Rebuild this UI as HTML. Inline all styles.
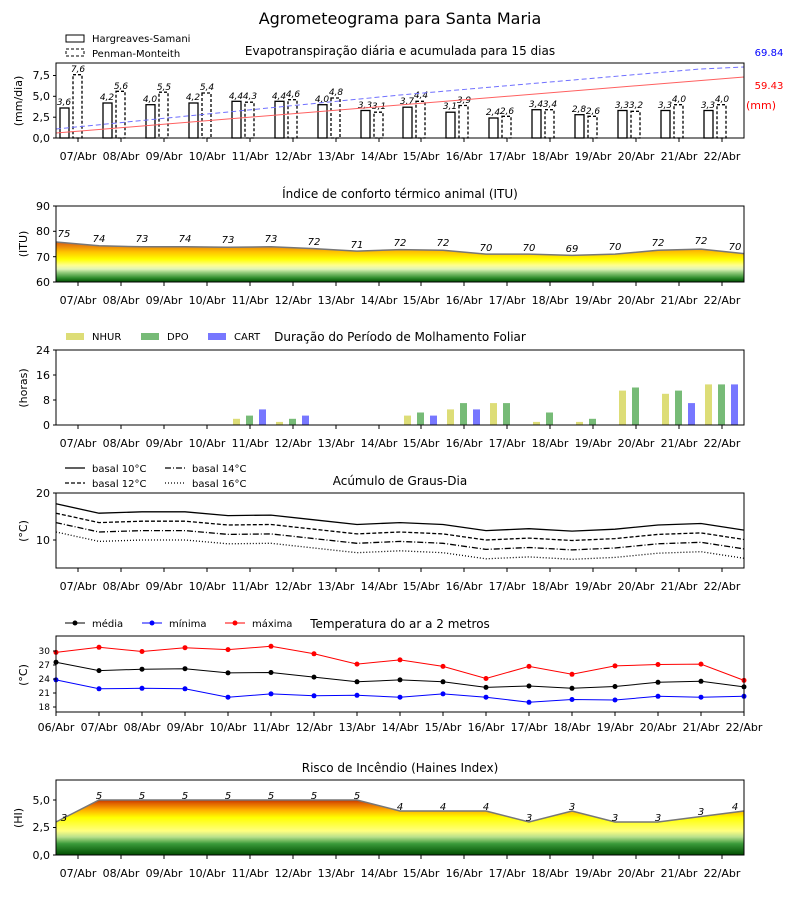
<!DOCTYPE html>
<html><head><meta charset="utf-8"><style>
body{margin:0;background:#fff}
svg{display:block;font-family:"DejaVu Sans","Liberation Sans",sans-serif}
.t{font-size:11px;text-anchor:middle}
.yl{font-size:11px;text-anchor:end}
.v{font-size:9px;font-style:italic;text-anchor:middle}
.h{font-size:12px;text-anchor:middle}
.lg{font-size:10px}
</style></head><body>
<svg width="800" height="900" viewBox="0 0 800 900">
<defs>
<linearGradient id="g2" gradientUnits="userSpaceOnUse" x1="0" y1="282" x2="0" y2="206">
<stop offset="0" stop-color="#004d00"/><stop offset="0.05" stop-color="#2a8a2a"/><stop offset="0.12" stop-color="#8cc878"/><stop offset="0.17" stop-color="#e0f4b8"/><stop offset="0.22" stop-color="#ffff90"/><stop offset="0.3" stop-color="#ffff00"/><stop offset="0.4" stop-color="#ffc000"/><stop offset="0.5" stop-color="#e07010"/><stop offset="0.6" stop-color="#c03000"/></linearGradient>
<linearGradient id="g6" gradientUnits="userSpaceOnUse" x1="0" y1="855" x2="0" y2="780">
<stop offset="0" stop-color="#004d00"/><stop offset="0.15" stop-color="#3a9a3a"/><stop offset="0.24" stop-color="#b8e08c"/><stop offset="0.32" stop-color="#ffff80"/><stop offset="0.5" stop-color="#ffff00"/><stop offset="0.6" stop-color="#ffb000"/><stop offset="0.69" stop-color="#e06000"/><stop offset="0.74" stop-color="#c03000"/></linearGradient>
<g id="xt" stroke="#000"><line x1="78" y1="0" x2="78" y2="4"/><line x1="121" y1="0" x2="121" y2="4"/><line x1="164" y1="0" x2="164" y2="4"/><line x1="207" y1="0" x2="207" y2="4"/><line x1="250" y1="0" x2="250" y2="4"/><line x1="293" y1="0" x2="293" y2="4"/><line x1="336" y1="0" x2="336" y2="4"/><line x1="379" y1="0" x2="379" y2="4"/><line x1="421" y1="0" x2="421" y2="4"/><line x1="464" y1="0" x2="464" y2="4"/><line x1="507" y1="0" x2="507" y2="4"/><line x1="550" y1="0" x2="550" y2="4"/><line x1="593" y1="0" x2="593" y2="4"/><line x1="636" y1="0" x2="636" y2="4"/><line x1="679" y1="0" x2="679" y2="4"/><line x1="722" y1="0" x2="722" y2="4"/></g>
</defs>
<text x="400" y="24" style="font-size:16px;text-anchor:middle">Agrometeograma para Santa Maria</text>

<!-- Panel 1 -->
<text x="400" y="55" class="h">Evapotranspiração diária e acumulada para 15 dias</text>
<rect x="66" y="35" width="18" height="7" fill="none" stroke="#000"/><text x="92" y="42" class="lg">Hargreaves-Samani</text>
<rect x="66" y="49" width="18" height="7" fill="none" stroke="#000" stroke-dasharray="3,2"/><text x="92" y="57" class="lg">Penman-Monteith</text>
<g fill="none" stroke="#000" stroke-width="1.3">
<rect x="60" y="108" width="9" height="30"/><rect x="103" y="103" width="9" height="35"/><rect x="146" y="104.7" width="9" height="33.3"/><rect x="189" y="103" width="9" height="35"/><rect x="232" y="101.3" width="9" height="36.7"/><rect x="275" y="101.3" width="9" height="36.7"/><rect x="318" y="104.7" width="9" height="33.3"/><rect x="361" y="110.5" width="9" height="27.5"/><rect x="403" y="107.2" width="9" height="30.8"/><rect x="446" y="112.2" width="9" height="25.8"/><rect x="489" y="118" width="9" height="20"/><rect x="532" y="109.7" width="9" height="28.3"/><rect x="575" y="114.7" width="9" height="23.3"/><rect x="618" y="110.5" width="9" height="27.5"/><rect x="661" y="110.5" width="9" height="27.5"/><rect x="704" y="110.5" width="9" height="27.5"/>
</g>
<g fill="none" stroke="#000" stroke-width="1.3" stroke-dasharray="3,2">
<rect x="73" y="74.7" width="9" height="63.3"/><rect x="116" y="91.3" width="9" height="46.7"/><rect x="159" y="92.2" width="9" height="45.8"/><rect x="202" y="93" width="9" height="45"/><rect x="245" y="102.2" width="9" height="35.8"/><rect x="288" y="99.7" width="9" height="38.3"/><rect x="331" y="98" width="9" height="40"/><rect x="374" y="112.2" width="9" height="25.8"/><rect x="416" y="101.3" width="9" height="36.7"/><rect x="459" y="105.5" width="9" height="32.5"/><rect x="502" y="116.3" width="9" height="21.7"/><rect x="545" y="109.7" width="9" height="28.3"/><rect x="588" y="116.3" width="9" height="21.7"/><rect x="631" y="111.3" width="9" height="26.7"/><rect x="674" y="104.7" width="9" height="33.3"/><rect x="717" y="104.7" width="9" height="33.3"/>
</g>
<g class="v">
<text x="64" y="105">3,6</text><text x="78" y="72">7,6</text>
<text x="107" y="100">4,2</text><text x="121" y="89">5,6</text>
<text x="150" y="102">4,0</text><text x="164" y="90">5,5</text>
<text x="193" y="100">4,2</text><text x="207" y="90">5,4</text>
<text x="236" y="99">4,4</text><text x="250" y="99">4,3</text>
<text x="279" y="99">4,4</text><text x="293" y="97">4,6</text>
<text x="322" y="102">4,0</text><text x="336" y="95">4,8</text>
<text x="365" y="108">3,3</text><text x="379" y="109">3,1</text>
<text x="407" y="104">3,7</text><text x="421" y="98">4,4</text>
<text x="450" y="109">3,1</text><text x="464" y="103">3,9</text>
<text x="493" y="115">2,4</text><text x="507" y="114">2,6</text>
<text x="536" y="107">3,4</text><text x="550" y="107">3,4</text>
<text x="579" y="112">2,8</text><text x="593" y="114">2,6</text>
<text x="622" y="108">3,3</text><text x="636" y="108">3,2</text>
<text x="665" y="108">3,3</text><text x="679" y="102">4,0</text>
<text x="708" y="108">3,3</text><text x="722" y="102">4,0</text>
</g>
<line x1="56" y1="133" x2="744" y2="77" stroke="#ff6060" stroke-width="1"/>
<polyline points="56,129 400,95 700,69 744,67" fill="none" stroke="#7070ff" stroke-width="1" stroke-dasharray="5,3"/>
<text x="769" y="56" style="font-size:10px;fill:#0000ff;text-anchor:middle">69.84</text>
<text x="769" y="89" style="font-size:10px;fill:#ff0000;text-anchor:middle">59.43</text>
<text x="761" y="109" style="font-size:11px;fill:#ff0000;text-anchor:middle">(mm)</text>
<rect x="56" y="63" width="688" height="75" fill="none" stroke="#000"/>
<g class="yl"><text x="50" y="142">0,0</text><text x="50" y="121">2,5</text><text x="50" y="100">5,0</text><text x="50" y="79">7,5</text></g>
<g stroke="#000"><line x1="53" y1="138" x2="56" y2="138"/><line x1="53" y1="117.2" x2="56" y2="117.2"/><line x1="53" y1="96.3" x2="56" y2="96.3"/><line x1="53" y1="75.5" x2="56" y2="75.5"/></g>
<text transform="translate(22,101) rotate(-90)" style="font-size:11px;text-anchor:middle">(mm/dia)</text>

<!-- Panel 2 -->
<text x="400" y="198" class="h">Índice de conforto térmico animal (ITU)</text>
<polygon points="56,282 56,242 99,245.8 142,246.8 185,246.8 228,247.3 271,246.8 314,248.6 357,251.1 400,249.6 443,250.3 486,254.1 529,254.1 572,255.4 615,254.1 658,250.3 701,249.1 744,253.6 744,282" fill="url(#g2)"/>
<polyline points="56,242 99,245.8 142,246.8 185,246.8 228,247.3 271,246.8 314,248.6 357,251.1 400,249.6 443,250.3 486,254.1 529,254.1 572,255.4 615,254.1 658,250.3 701,249.1 744,253.6" fill="none" stroke="#777" stroke-width="1.5"/>
<g style="font-size:10px;font-style:italic;text-anchor:middle">
<text x="64" y="237">75</text><text x="99" y="242">74</text><text x="142" y="242">73</text><text x="185" y="242">74</text><text x="228" y="243">73</text><text x="271" y="242">73</text><text x="314" y="245">72</text><text x="357" y="248">71</text><text x="400" y="246">72</text><text x="443" y="246">72</text><text x="486" y="251">70</text><text x="529" y="251">70</text><text x="572" y="252">69</text><text x="615" y="250">70</text><text x="658" y="246">72</text><text x="701" y="244">72</text><text x="735" y="250">70</text>
</g>
<rect x="56" y="206" width="688" height="76" fill="none" stroke="#000"/>
<g class="yl"><text x="50" y="286">60</text><text x="50" y="261">70</text><text x="50" y="235">80</text><text x="50" y="210">90</text></g>
<g stroke="#000"><line x1="53" y1="282" x2="56" y2="282"/><line x1="53" y1="256.7" x2="56" y2="256.7"/><line x1="53" y1="231.3" x2="56" y2="231.3"/><line x1="53" y1="206" x2="56" y2="206"/></g>
<text transform="translate(27,244) rotate(-90)" style="font-size:11px;text-anchor:middle">(ITU)</text>

<!-- Panel 3 -->
<text x="400" y="341" class="h">Duração do Período de Molhamento Foliar</text>
<rect x="66" y="333" width="18" height="7" fill="#dddd77"/><text x="92" y="340" class="lg">NHUR</text>
<rect x="141" y="333" width="18" height="7" fill="#77bb77"/><text x="167" y="340" class="lg">DPO</text>
<rect x="208" y="333" width="18" height="7" fill="#7777ff"/><text x="234" y="340" class="lg">CART</text>
<g fill="#dddd77"><rect x="233" y="418.8" width="7" height="6.2"/><rect x="276" y="421.9" width="7" height="3.1"/><rect x="404" y="415.6" width="7" height="9.4"/><rect x="447" y="409.4" width="7" height="15.6"/><rect x="490" y="403.1" width="7" height="21.9"/><rect x="533" y="421.9" width="7" height="3.1"/><rect x="576" y="421.9" width="7" height="3.1"/><rect x="619" y="390.6" width="7" height="34.4"/><rect x="662" y="393.8" width="7" height="31.2"/><rect x="705" y="384.4" width="7" height="40.6"/></g>
<g fill="#77bb77"><rect x="246" y="415.6" width="7" height="9.4"/><rect x="289" y="418.8" width="7" height="6.2"/><rect x="417" y="412.5" width="7" height="12.5"/><rect x="460" y="403.1" width="7" height="21.9"/><rect x="503" y="403.1" width="7" height="21.9"/><rect x="546" y="412.5" width="7" height="12.5"/><rect x="589" y="418.8" width="7" height="6.2"/><rect x="632" y="387.5" width="7" height="37.5"/><rect x="675" y="390.6" width="7" height="34.4"/><rect x="718" y="384.4" width="7" height="40.6"/></g>
<g fill="#7777ff"><rect x="259" y="409.4" width="7" height="15.6"/><rect x="302" y="415.6" width="7" height="9.4"/><rect x="430" y="415.6" width="7" height="9.4"/><rect x="473" y="409.4" width="7" height="15.6"/><rect x="688" y="403.1" width="7" height="21.9"/><rect x="731" y="384.4" width="7" height="40.6"/></g>
<rect x="56" y="350" width="688" height="75" fill="none" stroke="#000"/>
<g class="yl"><text x="50" y="429">0</text><text x="50" y="404">8</text><text x="50" y="379">16</text><text x="50" y="354">24</text></g>
<g stroke="#000"><line x1="53" y1="425" x2="56" y2="425"/><line x1="53" y1="400" x2="56" y2="400"/><line x1="53" y1="375" x2="56" y2="375"/><line x1="53" y1="350" x2="56" y2="350"/></g>
<text transform="translate(27,388) rotate(-90)" style="font-size:11px;text-anchor:middle">(horas)</text>

<!-- Panel 4 -->
<text x="400" y="485" class="h">Acúmulo de Graus-Dia</text>
<g stroke="#000" stroke-width="1.2">
<line x1="65" y1="468" x2="85" y2="468"/><line x1="65" y1="483" x2="85" y2="483" stroke-dasharray="4,2"/>
<line x1="165" y1="468" x2="185" y2="468" stroke-dasharray="6,2,1,2"/><line x1="165" y1="483" x2="185" y2="483" stroke-dasharray="1,2"/></g>
<text x="92" y="472" class="lg">basal 10°C</text><text x="92" y="487" class="lg">basal 12°C</text>
<text x="192" y="472" class="lg">basal 14°C</text><text x="192" y="487" class="lg">basal 16°C</text>
<g fill="none" stroke="#000" stroke-width="1.3">
<polyline points="56,503.8 99,513.2 142,511.8 185,511.8 228,515.6 271,515.1 314,519.8 357,524.5 400,522.6 443,524.5 486,530.6 529,528.7 572,531.1 615,529.2 658,525 701,523.5 744,530.1"/>
<polyline transform="translate(0,9.4)" stroke-dasharray="4,2" points="56,503.8 99,513.2 142,511.8 185,511.8 228,515.6 271,515.1 314,519.8 357,524.5 400,522.6 443,524.5 486,530.6 529,528.7 572,531.1 615,529.2 658,525 701,523.5 744,530.1"/>
<polyline transform="translate(0,18.8)" stroke-dasharray="6,2,1,2" points="56,503.8 99,513.2 142,511.8 185,511.8 228,515.6 271,515.1 314,519.8 357,524.5 400,522.6 443,524.5 486,530.6 529,528.7 572,531.1 615,529.2 658,525 701,523.5 744,530.1"/>
<polyline transform="translate(0,28.2)" stroke-dasharray="1,2" points="56,503.8 99,513.2 142,511.8 185,511.8 228,515.6 271,515.1 314,519.8 357,524.5 400,522.6 443,524.5 486,530.6 529,528.7 572,531.1 615,529.2 658,525 701,523.5 744,530.1"/>
</g>
<rect x="56" y="493" width="688" height="75" fill="none" stroke="#000"/>
<g class="yl"><text x="50" y="497">20</text><text x="50" y="544">10</text></g>
<g stroke="#000"><line x1="53" y1="493" x2="56" y2="493"/><line x1="53" y1="540" x2="56" y2="540"/></g>
<text transform="translate(27,531) rotate(-90)" style="font-size:11px;text-anchor:middle">(°C)</text>

<!-- Panel 5 -->
<text x="400" y="628" class="h">Temperatura do ar a 2 metros</text>
<line x1="65" y1="623" x2="85" y2="623" stroke="#000"/><circle cx="75" cy="623" r="2.5"/><text x="92" y="627" class="lg">média</text>
<line x1="142" y1="623" x2="162" y2="623" stroke="#00f"/><circle cx="152" cy="623" r="2.5" fill="#00f"/><text x="169" y="627" class="lg">mínima</text>
<line x1="225" y1="623" x2="245" y2="623" stroke="#f00"/><circle cx="235" cy="623" r="2.5" fill="#f00"/><text x="252" y="627" class="lg">máxima</text>
<polyline fill="none" stroke="#f00" points="56,652.4 99,647.3 142,651.5 185,647.7 228,649.6 271,646.3 314,653.8 357,664.1 400,659.9 443,666.4 486,678.5 529,666.4 572,674.3 615,665.9 658,664.5 701,664.1 744,680.4"/>
<polyline fill="none" stroke="#000" points="56,662.2 99,670.6 142,669.2 185,668.7 228,672.9 271,672.5 314,677.1 357,681.8 400,679.9 443,681.8 486,687.4 529,686 572,688.3 615,686.5 658,682.3 701,681.3 744,686.9"/>
<polyline fill="none" stroke="#00f" points="56,679.9 99,688.8 142,688.3 185,688.8 228,697.2 271,693.9 314,695.8 357,695.3 400,697.2 443,693.9 486,697.2 529,702.3 572,699.5 615,700 658,696.3 701,697.2 744,696.3"/>
<g fill="#f00"><circle cx="56" cy="652.4" r="2.5"/><circle cx="99" cy="647.3" r="2.5"/><circle cx="142" cy="651.5" r="2.5"/><circle cx="185" cy="647.7" r="2.5"/><circle cx="228" cy="649.6" r="2.5"/><circle cx="271" cy="646.3" r="2.5"/><circle cx="314" cy="653.8" r="2.5"/><circle cx="357" cy="664.1" r="2.5"/><circle cx="400" cy="659.9" r="2.5"/><circle cx="443" cy="666.4" r="2.5"/><circle cx="486" cy="678.5" r="2.5"/><circle cx="529" cy="666.4" r="2.5"/><circle cx="572" cy="674.3" r="2.5"/><circle cx="615" cy="665.9" r="2.5"/><circle cx="658" cy="664.5" r="2.5"/><circle cx="701" cy="664.1" r="2.5"/><circle cx="744" cy="680.4" r="2.5"/></g>
<g fill="#000"><circle cx="56" cy="662.2" r="2.5"/><circle cx="99" cy="670.6" r="2.5"/><circle cx="142" cy="669.2" r="2.5"/><circle cx="185" cy="668.7" r="2.5"/><circle cx="228" cy="672.9" r="2.5"/><circle cx="271" cy="672.5" r="2.5"/><circle cx="314" cy="677.1" r="2.5"/><circle cx="357" cy="681.8" r="2.5"/><circle cx="400" cy="679.9" r="2.5"/><circle cx="443" cy="681.8" r="2.5"/><circle cx="486" cy="687.4" r="2.5"/><circle cx="529" cy="686" r="2.5"/><circle cx="572" cy="688.3" r="2.5"/><circle cx="615" cy="686.5" r="2.5"/><circle cx="658" cy="682.3" r="2.5"/><circle cx="701" cy="681.3" r="2.5"/><circle cx="744" cy="686.9" r="2.5"/></g>
<g fill="#00f"><circle cx="56" cy="679.9" r="2.5"/><circle cx="99" cy="688.8" r="2.5"/><circle cx="142" cy="688.3" r="2.5"/><circle cx="185" cy="688.8" r="2.5"/><circle cx="228" cy="697.2" r="2.5"/><circle cx="271" cy="693.9" r="2.5"/><circle cx="314" cy="695.8" r="2.5"/><circle cx="357" cy="695.3" r="2.5"/><circle cx="400" cy="697.2" r="2.5"/><circle cx="443" cy="693.9" r="2.5"/><circle cx="486" cy="697.2" r="2.5"/><circle cx="529" cy="702.3" r="2.5"/><circle cx="572" cy="699.5" r="2.5"/><circle cx="615" cy="700" r="2.5"/><circle cx="658" cy="696.3" r="2.5"/><circle cx="701" cy="697.2" r="2.5"/><circle cx="744" cy="696.3" r="2.5"/></g>
<rect x="56" y="636" width="688" height="76" fill="none" stroke="#000"/>
<g class="yl" style="font-size:9px"><text x="50" y="710">18</text><text x="50" y="696">21</text><text x="50" y="682">24</text><text x="50" y="668">27</text><text x="50" y="654">30</text></g>
<g stroke="#000"><line x1="53" y1="707" x2="56" y2="707"/><line x1="53" y1="693" x2="56" y2="693"/><line x1="53" y1="679" x2="56" y2="679"/><line x1="53" y1="665" x2="56" y2="665"/><line x1="53" y1="651" x2="56" y2="651"/></g>
<text transform="translate(27,675) rotate(-90)" style="font-size:11px;text-anchor:middle">(°C)</text>
<g stroke="#000"><line x1="56" y1="712" x2="56" y2="716"/><line x1="99" y1="712" x2="99" y2="716"/><line x1="142" y1="712" x2="142" y2="716"/><line x1="185" y1="712" x2="185" y2="716"/><line x1="228" y1="712" x2="228" y2="716"/><line x1="271" y1="712" x2="271" y2="716"/><line x1="314" y1="712" x2="314" y2="716"/><line x1="357" y1="712" x2="357" y2="716"/><line x1="400" y1="712" x2="400" y2="716"/><line x1="443" y1="712" x2="443" y2="716"/><line x1="486" y1="712" x2="486" y2="716"/><line x1="529" y1="712" x2="529" y2="716"/><line x1="572" y1="712" x2="572" y2="716"/><line x1="615" y1="712" x2="615" y2="716"/><line x1="658" y1="712" x2="658" y2="716"/><line x1="701" y1="712" x2="701" y2="716"/><line x1="744" y1="712" x2="744" y2="716"/></g>
<g class="t"><text x="56" y="731">06/Abr</text><text x="99" y="731">07/Abr</text><text x="142" y="731">08/Abr</text><text x="185" y="731">09/Abr</text><text x="228" y="731">10/Abr</text><text x="271" y="731">11/Abr</text><text x="314" y="731">12/Abr</text><text x="357" y="731">13/Abr</text><text x="400" y="731">14/Abr</text><text x="443" y="731">15/Abr</text><text x="486" y="731">16/Abr</text><text x="529" y="731">17/Abr</text><text x="572" y="731">18/Abr</text><text x="615" y="731">19/Abr</text><text x="658" y="731">20/Abr</text><text x="701" y="731">21/Abr</text><text x="744" y="731">22/Abr</text></g>

<!-- Panel 6 -->
<text x="400" y="772" class="h">Risco de Incêndio (Haines Index)</text>
<polygon points="56,855 56,822 99,800 142,800 185,800 228,800 271,800 314,800 357,800 400,811 443,811 486,811 529,822 572,811 615,822 658,822 701,816.5 744,811 744,855" fill="url(#g6)"/>
<polyline points="56,822 99,800 142,800 185,800 228,800 271,800 314,800 357,800 400,811 443,811 486,811 529,822 572,811 615,822 658,822 701,816.5 744,811" fill="none" stroke="#777" stroke-width="1.5"/>
<g style="font-size:10px;font-style:italic;text-anchor:middle">
<text x="64" y="821">3</text><text x="99" y="799">5</text><text x="142" y="799">5</text><text x="185" y="799">5</text><text x="228" y="799">5</text><text x="271" y="799">5</text><text x="314" y="799">5</text><text x="357" y="799">5</text><text x="400" y="810">4</text><text x="443" y="810">4</text><text x="486" y="810">4</text><text x="529" y="821">3</text><text x="572" y="810">3</text><text x="615" y="821">3</text><text x="658" y="821">3</text><text x="701" y="815">3</text><text x="735" y="810">4</text>
</g>
<rect x="56" y="780" width="688" height="75" fill="none" stroke="#000"/>
<g class="yl"><text x="50" y="859">0,0</text><text x="50" y="831">2,5</text><text x="50" y="804">5,0</text></g>
<g stroke="#000"><line x1="53" y1="855" x2="56" y2="855"/><line x1="53" y1="827.5" x2="56" y2="827.5"/><line x1="53" y1="800" x2="56" y2="800"/></g>
<text transform="translate(22,818) rotate(-90)" style="font-size:11px;text-anchor:middle">(HI)</text>

<use href="#xt" y="138"/><use href="#xt" y="282"/><use href="#xt" y="425"/><use href="#xt" y="568"/><use href="#xt" y="855"/>
<g class="t"><text x="78" y="160">07/Abr</text><text x="121" y="160">08/Abr</text><text x="164" y="160">09/Abr</text><text x="207" y="160">10/Abr</text><text x="250" y="160">11/Abr</text><text x="293" y="160">12/Abr</text><text x="336" y="160">13/Abr</text><text x="379" y="160">14/Abr</text><text x="421" y="160">15/Abr</text><text x="464" y="160">16/Abr</text><text x="507" y="160">17/Abr</text><text x="550" y="160">18/Abr</text><text x="593" y="160">19/Abr</text><text x="636" y="160">20/Abr</text><text x="679" y="160">21/Abr</text><text x="722" y="160">22/Abr</text></g>
<g class="t"><text x="78" y="304">07/Abr</text><text x="121" y="304">08/Abr</text><text x="164" y="304">09/Abr</text><text x="207" y="304">10/Abr</text><text x="250" y="304">11/Abr</text><text x="293" y="304">12/Abr</text><text x="336" y="304">13/Abr</text><text x="379" y="304">14/Abr</text><text x="421" y="304">15/Abr</text><text x="464" y="304">16/Abr</text><text x="507" y="304">17/Abr</text><text x="550" y="304">18/Abr</text><text x="593" y="304">19/Abr</text><text x="636" y="304">20/Abr</text><text x="679" y="304">21/Abr</text><text x="722" y="304">22/Abr</text></g>
<g class="t"><text x="78" y="447">07/Abr</text><text x="121" y="447">08/Abr</text><text x="164" y="447">09/Abr</text><text x="207" y="447">10/Abr</text><text x="250" y="447">11/Abr</text><text x="293" y="447">12/Abr</text><text x="336" y="447">13/Abr</text><text x="379" y="447">14/Abr</text><text x="421" y="447">15/Abr</text><text x="464" y="447">16/Abr</text><text x="507" y="447">17/Abr</text><text x="550" y="447">18/Abr</text><text x="593" y="447">19/Abr</text><text x="636" y="447">20/Abr</text><text x="679" y="447">21/Abr</text><text x="722" y="447">22/Abr</text></g>
<g class="t"><text x="78" y="590">07/Abr</text><text x="121" y="590">08/Abr</text><text x="164" y="590">09/Abr</text><text x="207" y="590">10/Abr</text><text x="250" y="590">11/Abr</text><text x="293" y="590">12/Abr</text><text x="336" y="590">13/Abr</text><text x="379" y="590">14/Abr</text><text x="421" y="590">15/Abr</text><text x="464" y="590">16/Abr</text><text x="507" y="590">17/Abr</text><text x="550" y="590">18/Abr</text><text x="593" y="590">19/Abr</text><text x="636" y="590">20/Abr</text><text x="679" y="590">21/Abr</text><text x="722" y="590">22/Abr</text></g>
<g class="t"><text x="78" y="877">07/Abr</text><text x="121" y="877">08/Abr</text><text x="164" y="877">09/Abr</text><text x="207" y="877">10/Abr</text><text x="250" y="877">11/Abr</text><text x="293" y="877">12/Abr</text><text x="336" y="877">13/Abr</text><text x="379" y="877">14/Abr</text><text x="421" y="877">15/Abr</text><text x="464" y="877">16/Abr</text><text x="507" y="877">17/Abr</text><text x="550" y="877">18/Abr</text><text x="593" y="877">19/Abr</text><text x="636" y="877">20/Abr</text><text x="679" y="877">21/Abr</text><text x="722" y="877">22/Abr</text></g>
</svg>
</body></html>
